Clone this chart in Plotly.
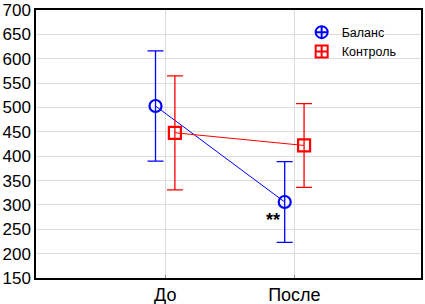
import plotly.graph_objects as go

categories = ["До", "После"]
balance_mean = [503, 306]
balance_err = [113, 83]
control_mean = [448, 422]
control_err = [117, 86]
y_ticks = [150, 200, 250, 300, 350, 400, 450, 500, 550, 600, 650, 700]

BLUE = "#0000ff"
RED = "#ff0000"
OFF = 0.075
idx = list(range(len(categories)))

fig = go.Figure()
fig.add_trace(go.Scatter(
    x=[i - OFF for i in idx], y=balance_mean, mode="lines+markers",
    line=dict(color=BLUE, width=1),
    marker=dict(symbol="circle-open", size=12, color=BLUE, line=dict(width=2.2)),
    error_y=dict(type="data", array=balance_err, visible=True, color=BLUE, thickness=1.3, width=8),
    showlegend=False,
))
fig.add_trace(go.Scatter(
    x=[i + OFF for i in idx], y=control_mean, mode="lines+markers",
    line=dict(color=RED, width=1),
    marker=dict(symbol="square-open", size=12, color=RED, line=dict(width=2.2)),
    error_y=dict(type="data", array=control_err, visible=True, color=RED, thickness=1.3, width=8),
    showlegend=False,
))
fig.add_trace(go.Scatter(x=[None], y=[None], mode="markers", name="Баланс",
    marker=dict(symbol="circle-cross-open", size=12, color=BLUE, line=dict(width=2.5))))
fig.add_trace(go.Scatter(x=[None], y=[None], mode="markers", name="Контроль",
    marker=dict(symbol="square-cross-open", size=12, color=RED, line=dict(width=2.5))))

fig.add_annotation(x=idx[1] - OFF - 0.09, y=balance_mean[1] - 36, text="<b>**</b>",
                   showarrow=False, font=dict(size=18, color="black"))

fig.update_layout(
    width=425, height=304,
    margin=dict(l=36, r=4, t=10, b=26, autoexpand=False),
    paper_bgcolor="white", plot_bgcolor="white",
    font=dict(family="Liberation Sans, Arial, sans-serif", color="black"),
    legend=dict(x=0.69, y=0.972, xanchor="left", yanchor="top",
                bgcolor="rgba(0,0,0,0)", font=dict(size=12.5),
                itemsizing="constant", tracegroupgap=0, itemwidth=30),
    showlegend=True,
)
fig.update_xaxes(
    range=[-1, 1.98], tickvals=idx, ticktext=categories,
    showgrid=True, gridcolor="#dcdcdc", gridwidth=1,
    showline=True, linecolor="black", linewidth=1.5, mirror=True,
    ticks="inside", ticklen=3, tickcolor="#888",
    tickfont=dict(size=18), zeroline=False, automargin=False,
    ticklabeloverflow="allow",
)
fig.update_yaxes(
    range=[150, 700], tickvals=y_ticks,
    showgrid=True, gridcolor="#dcdcdc", gridwidth=1,
    showline=True, linecolor="black", linewidth=1.5, mirror=True,
    ticks="", tickfont=dict(size=17), zeroline=False, automargin=False,
    ticklabeloverflow="allow",
)

fig.write_html("out.html", config={"displayModeBar": False},
               post_script="document.body.style.margin='0';document.body.style.overflow='hidden';")
